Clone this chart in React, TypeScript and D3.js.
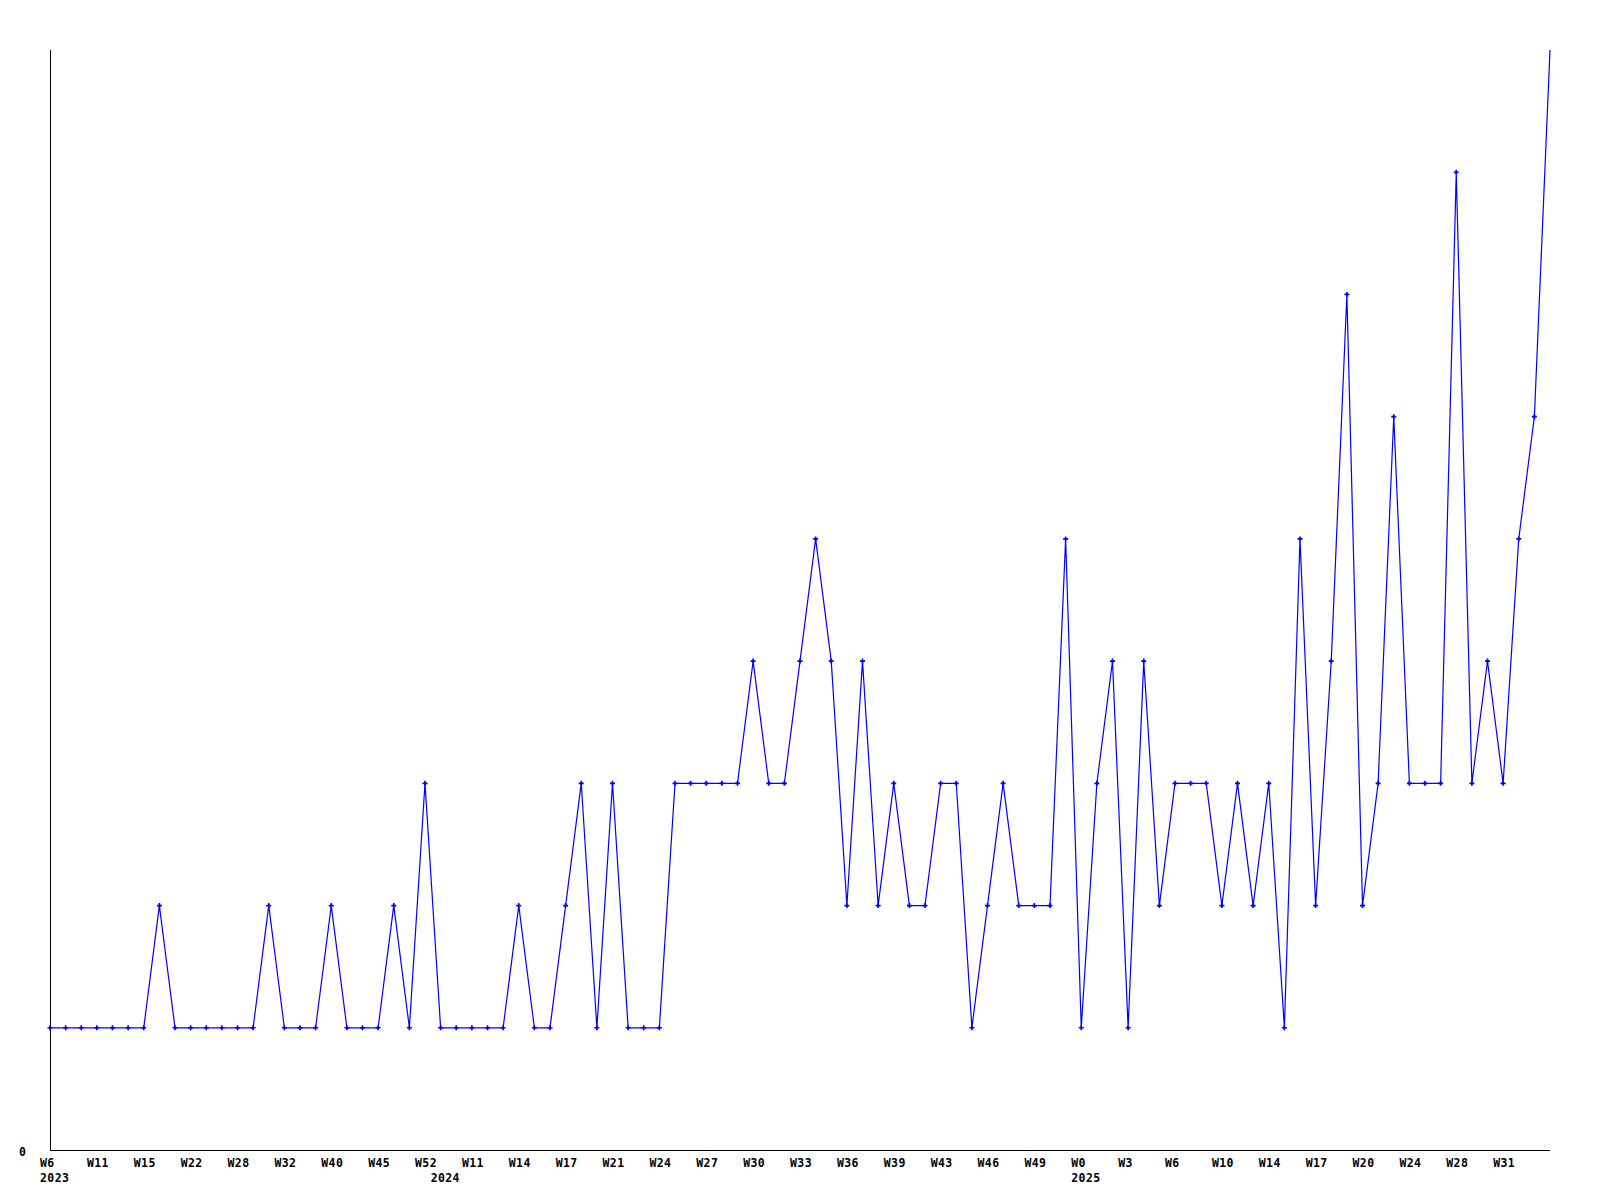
import React from "react";
import * as d3 from "d3";

const values: number[] = [
  1, 1, 1, 1, 1, 1, 1, 2, 1, 1, 1, 1, 1, 1, 2, 1, 1, 1, 2, 1, 1, 1, 2, 1, 3,
  1, 1, 1, 1, 1, 2, 1, 1, 2, 3, 1, 3, 1, 1, 1, 3, 3, 3, 3, 3, 4, 3, 3, 4, 5,
  4, 2, 4, 2, 3, 2, 2, 3, 3, 1, 2, 3, 2, 2, 2, 5, 1, 3, 4, 1, 4, 2, 3, 3, 3,
  2, 3, 2, 3, 1, 5, 2, 4, 7, 2, 3, 6, 3, 3, 3, 8, 3, 4, 3, 5, 6, 9,
];

const weekLabels: string[] = [
  "W6", "W11", "W15", "W22", "W28", "W32", "W40", "W45", "W52", "W11", "W14",
  "W17", "W21", "W24", "W27", "W30", "W33", "W36", "W39", "W43", "W46", "W49",
  "W0", "W3", "W6", "W10", "W14", "W17", "W20", "W24", "W28", "W31",
];
const weekLabelStep = 3;

const yearLabels: string[] = ["2023", "2024", "2025"];
const yearIndex: number[] = [0, 25, 66];

const yTickLabels: string[] = ["0"];
const yMax = 9;

const W = 1600;
const H = 1200;
const left = 50;
const right = 1550;
const top = 50;
const bottom = 1150;

export default function App() {
  const x = d3.scaleLinear().domain([0, values.length - 1]).range([left, right]);
  const y = d3.scaleLinear().domain([0, yMax]).range([bottom, top]);
  const line = d3
    .line<number>()
    .x((_, i) => x(i))
    .y((d) => y(d));
  const cross = d3.symbol().type(d3.symbolCross).size(14)();
  const font = "'DejaVu Sans Mono', 'Liberation Mono', monospace";

  return (
    <svg
      width={W}
      height={H}
      style={{ position: "absolute", left: 0, top: 0, display: "block", background: "#fff" }}
    >
      <defs>
        <clipPath id="markerClip">
          <rect x={0} y={top + 3} width={W} height={H} />
        </clipPath>
      </defs>
      <line x1={left + 0.5} x2={left + 0.5} y1={top} y2={bottom} stroke="#000" strokeWidth={1} shapeRendering="crispEdges" />
      <line x1={left} x2={right} y1={bottom + 0.5} y2={bottom + 0.5} stroke="#000" strokeWidth={1} shapeRendering="crispEdges" />
      <path d={line(values) || ""} fill="none" stroke="#0000ff" strokeWidth={1.2} />
      <g clipPath="url(#markerClip)">
        {values.map((v, i) => (
          <path key={i} d={cross || ""} transform={`translate(${x(i)},${y(v)})`} fill="#0000ff" />
        ))}
      </g>
      {yTickLabels.map((t, i) => (
        <text key={i} x={26} y={y(0) + 6} textAnchor="end" fontFamily={font} fontWeight="bold" fontSize={11.5} fill="#000">
          {t}
        </text>
      ))}
      {weekLabels.map((t, i) => (
        <text
          key={i}
          x={x(i * weekLabelStep) - 10}
          y={1167}
          fontFamily={font}
          fontWeight="bold"
          fontSize={11.5}
          letterSpacing={0.4}
          fill="#000"
        >
          {t}
        </text>
      ))}
      {yearLabels.map((t, i) => (
        <text
          key={i}
          x={x(yearIndex[i]) - 10}
          y={1182}
          fontFamily={font}
          fontWeight="bold"
          fontSize={11.5}
          letterSpacing={0.4}
          fill="#000"
        >
          {t}
        </text>
      ))}
    </svg>
  );
}
